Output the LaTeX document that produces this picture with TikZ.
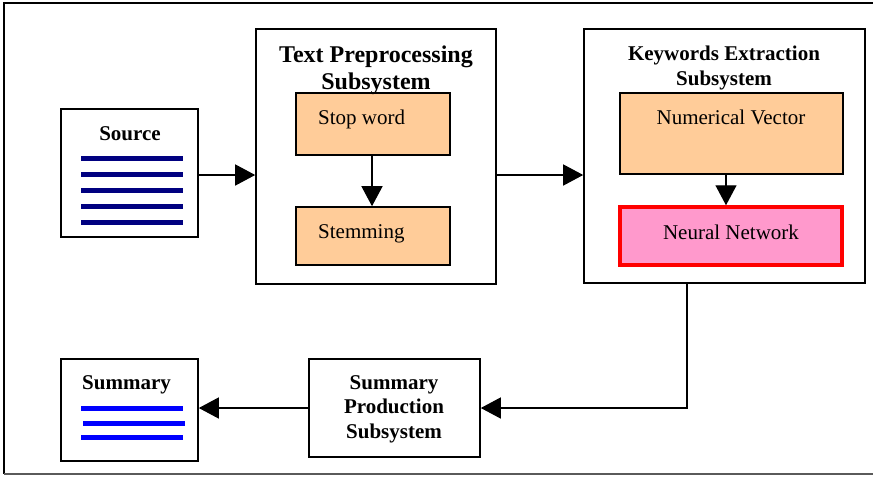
\documentclass[tikz,border=0pt]{standalone}
\usepackage{fontspec}
\setmainfont{Liberation Serif}
\usetikzlibrary{arrows.meta,calc}
\definecolor{boxorange}{RGB}{255,204,153}
\definecolor{boxpink}{RGB}{255,153,204}
\definecolor{navyline}{RGB}{0,0,128}
\definecolor{blueline}{RGB}{0,0,255}
\definecolor{framegray}{RGB}{90,90,90}
\tikzset{
  box/.style={draw=black, line width=1.6pt, fill=white, inner sep=0pt, rectangle},
  innerbox/.style={draw=black, line width=1.6pt, fill=boxorange, inner sep=0pt, rectangle},
  nnbox/.style={draw=red, line width=3.5pt, fill=boxpink, inner sep=0pt, rectangle},
  arr/.style={line width=1.4pt, -{Triangle[length=20pt,width=21pt]}},
  btitle/.style={font=\fontsize{21}{25}\selectfont\bfseries, align=center, inner sep=0pt},
  bigtitle/.style={font=\fontsize{24}{27}\selectfont\bfseries, align=center, inner sep=0pt},
  plain/.style={font=\fontsize{21}{25}\selectfont, inner sep=0pt},
  docline/.style={line width=5pt},
}
\begin{document}
\begin{tikzpicture}[x=1pt,y=-1pt]
\useasboundingbox (0,0) rectangle (873,477);
% outer frame
\draw[black, line width=2pt] (873,3) -- (4,3) -- (4,474);
\draw[framegray, line width=1.5pt] (4,474) -- (873,474);

% boxes
\node[box, minimum width=137pt, minimum height=128pt] (src) at (129.5,173) {};
\node[box, minimum width=240pt, minimum height=255pt] (tps) at (376,156.5) {};
\node[innerbox, minimum width=154pt, minimum height=62pt] (sw) at (373,124) {};
\node[innerbox, minimum width=154pt, minimum height=58pt] (stem) at (373,236) {};
\node[box, minimum width=281pt, minimum height=254pt] (kes) at (724.5,156) {};
\node[innerbox, minimum width=223pt, minimum height=81pt] (nv) at (731.5,133.5) {};
\node[nnbox, minimum width=222pt, minimum height=58pt] (nn) at (731,236) {};
\node[box, minimum width=137pt, minimum height=102pt] (sum) at (129.5,410) {};
\node[box, minimum width=171pt, minimum height=98pt] (sps) at (394.5,408) {};

% texts
\node[btitle, anchor=base] (srct) at (130,140) {Source};
\node[bigtitle] (tpst) at (376,70) {Text Preprocessing\\Subsystem};
\node[plain, anchor=base west] (swt) at (318,124) {Stop word};
\node[plain, anchor=base west] (stemt) at (318,238) {Stemming};
\node[btitle] (kest) at (724,68) {Keywords Extraction\\Subsystem};
\node[plain, anchor=base] (nvt) at (731,124) {Numerical Vector};
\node[plain, anchor=base] (nnt) at (731,239) {Neural Network};
\node[btitle, anchor=base] (sumt) at (126.5,389) {Summary};
\node[btitle, font=\fontsize{21}{24.5}\selectfont\bfseries] (spst) at (394,409) {Summary\\Production\\Subsystem};

% document lines
\foreach \yy in {158,174,190,206,222}
  \draw[navyline, docline] (81,\yy) -- (183,\yy);
\draw[blueline, docline] (81,408) -- (183,408);
\draw[blueline, docline] (83,423) -- (185,423);
\draw[blueline, docline] (81,437) -- (183,437);

% connectors
\draw[arr] ([yshift=-2pt]src.east) -- ([yshift=-2pt]src.east -| tps.west);
\draw[arr] ([yshift=-2pt]src.east -| tps.east) -- ([yshift=-2pt]src.east -| kes.west);
\draw[arr] ([xshift=-1pt]sw.south) -- ([xshift=-1pt]stem.north);
\draw[arr] ([xshift=-5.5pt]nv.south) -- ([xshift=-5.5pt]nv.south |- nn.north);
\draw[arr] ([xshift=-37.5pt]kes.south) |- (sps.east);
\draw[arr] (sps.west) -- (sps.west -| sum.east);
\end{tikzpicture}
\end{document}
